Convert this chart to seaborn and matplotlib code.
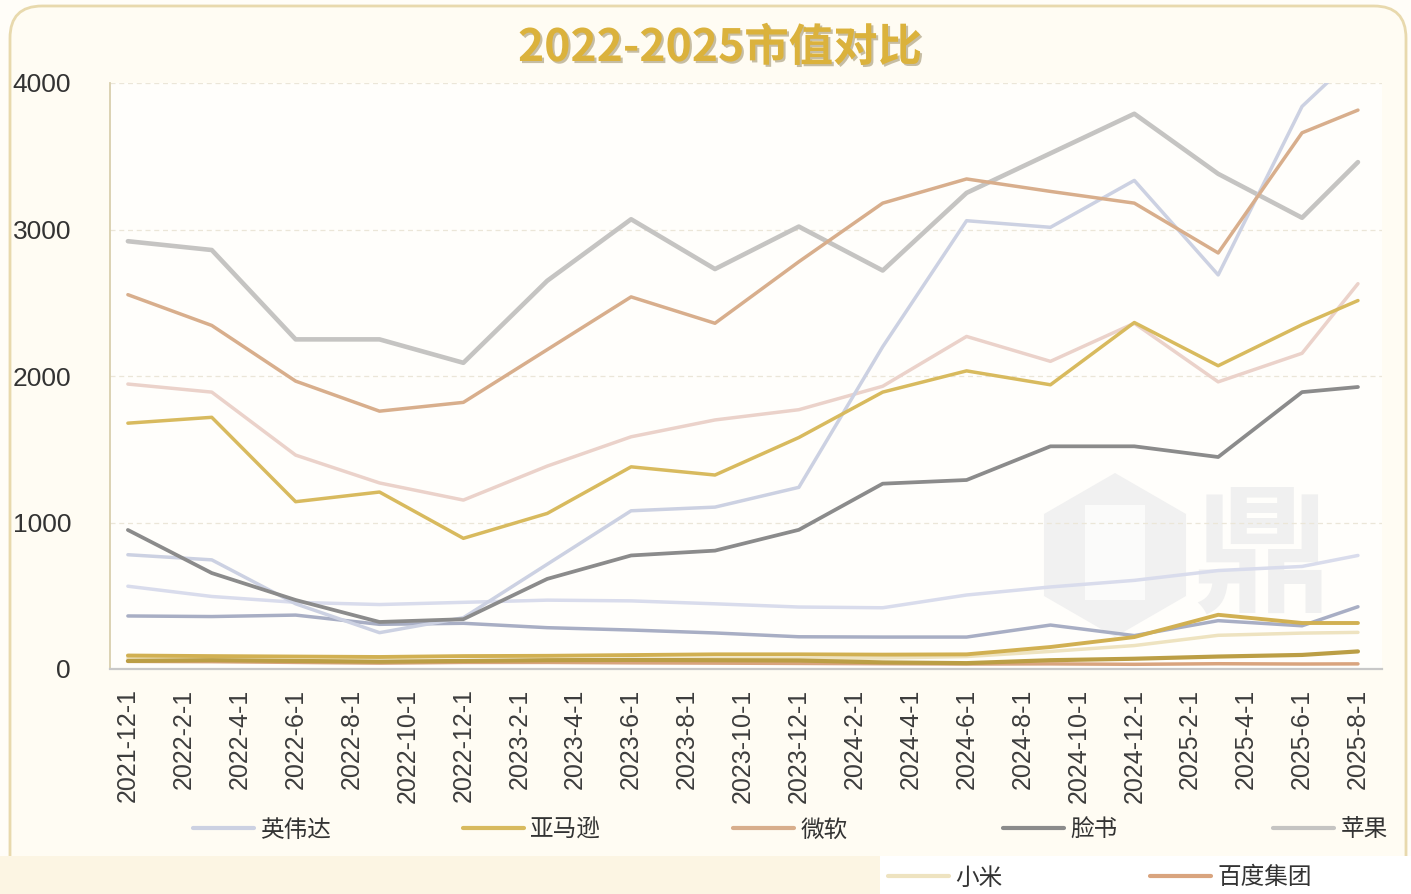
import numpy as np
import pandas as pd
import matplotlib
matplotlib.use("Agg")
import matplotlib.pyplot as plt
import matplotlib.patheffects as pe
from matplotlib.lines import Line2D
from matplotlib.patches import FancyBboxPatch, Rectangle, RegularPolygon
import seaborn as sns

# ---------------- data ----------------
dates = ["2021-12-1", "2022-3-1", "2022-6-1", "2022-9-1", "2022-12-1",
         "2023-3-1", "2023-6-1", "2023-9-1", "2023-12-1",
         "2024-3-1", "2024-6-1", "2024-9-1", "2024-12-1",
         "2025-3-1", "2025-6-1", "2025-8-1"]

tick_labels = ["2021-12-1", "2022-2-1", "2022-4-1", "2022-6-1", "2022-8-1", "2022-10-1",
               "2022-12-1", "2023-2-1", "2023-4-1", "2023-6-1", "2023-8-1", "2023-10-1",
               "2023-12-1", "2024-2-1", "2024-4-1", "2024-6-1", "2024-8-1", "2024-10-1",
               "2024-12-1", "2025-2-1", "2025-4-1", "2025-6-1", "2025-8-1"]

y_ticks = [0, 1000, 2000, 3000, 4000]

apple     = [2920, 2860, 2250, 2250, 2090, 2650, 3070, 2730, 3020, 2720, 3250, 3520, 3790, 3380, 3080, 3460]
microsoft = [2555, 2345, 1965, 1760, 1820, 2180, 2540, 2360, 2780, 3180, 3345, 3260, 3180, 2840, 3660, 3815]
nvidia    = [780, 745, 445, 248, 350, 715, 1080, 1105, 1240, 2200, 3060, 3015, 3335, 2690, 3840, 4200]
google    = [1945, 1890, 1460, 1270, 1153, 1385, 1585, 1700, 1770, 1930, 2270, 2100, 2360, 1960, 2155, 2630]
amazon    = [1678, 1718, 1142, 1208, 892, 1062, 1380, 1324, 1580, 1890, 2035, 1940, 2365, 2070, 2350, 2515]
meta      = [949, 655, 471, 321, 340, 615, 775, 808, 950, 1265, 1290, 1520, 1520, 1447, 1890, 1925]
tencent   = [565, 495, 455, 440, 455, 470, 465, 445, 423, 418, 505, 560, 605, 672, 700, 775]
alibaba   = [362, 358, 368, 305, 312, 282, 266, 246, 220, 218, 218, 300, 228, 330, 295, 425]
pdd       = [92, 88, 85, 82, 88, 90, 95, 100, 100, 98, 100, 150, 218, 370, 314, 314]
jd        = [55, 60, 55, 50, 55, 60, 62, 60, 58, 45, 40, 60, 70, 85, 96, 120]
xiaomi    = [75, 65, 55, 50, 50, 60, 65, 70, 70, 75, 85, 120, 160, 230, 245, 250]
baidu     = [52, 50, 45, 40, 45, 45, 42, 40, 38, 36, 34, 35, 32, 36, 34, 35]

series = {
    "腾讯": tencent, "小米": xiaomi, "谷歌": google, "阿里巴巴": alibaba,
    "百度集团": baidu, "京东": jd, "拼多多": pdd, "苹果": apple,
    "英伟达": nvidia, "微软": microsoft, "亚马逊": amazon, "脸书": meta,
}
palette = {
    "腾讯": "#d9dcec", "小米": "#eee3c0", "谷歌": "#ebd2ca", "阿里巴巴": "#a8aec4",
    "百度集团": "#d9a47e", "京东": "#bb9e45", "拼多多": "#d1b052", "苹果": "#c5c4c2",
    "英伟达": "#ccd1e2", "微软": "#d8ae8c", "亚马逊": "#d8ba5e", "脸书": "#8b8b8b",
}
widths = {"苹果": 3.3, "脸书": 2.7, "京东": 3.0, "拼多多": 2.8}
legend_row1 = ["英伟达", "亚马逊", "微软", "脸书", "苹果"]
legend_row2 = ["小米", "百度集团"]

# ---------------- frame ----------------
def month_index(s):
    d = pd.to_datetime(s)
    return (d.year - 2021) * 12 + d.month - 12

rows = []
for name, vals in series.items():
    for d, v in zip(dates, vals):
        rows.append({"m": month_index(d), "company": name, "value": v})
df = pd.DataFrame(rows)

sns.set_style("white")
plt.rcParams["font.family"] = ["Liberation Sans", "Noto Sans CJK SC", "DejaVu Sans"]

W, H = 1411, 894
fig = plt.figure(figsize=(W / 100, H / 100), dpi=100, facecolor="#fffdf8")

# background layer in pixel coordinates
bg = fig.add_axes([0, 0, 1, 1], zorder=0)
bg.set_xlim(0, W)
bg.set_ylim(H, 0)
bg.axis("off")
bg.add_patch(FancyBboxPatch((10, 6), 1396, 1000, boxstyle="round,pad=0,rounding_size=32",
                            facecolor="#fffcf3", edgecolor="#e8d9ad", lw=2))
bg.add_patch(Rectangle((110, 83), 1272, 586, facecolor="#fffefb", edgecolor="none"))
bg.add_patch(Rectangle((0, 856), 880, 40, facecolor="#fcf5e3", edgecolor="none"))
bg.add_patch(Rectangle((880, 856), 531, 40, facecolor="#ffffff", edgecolor="none"))
# faint watermark
bg.add_patch(RegularPolygon((1115, 555), numVertices=6, radius=82, orientation=0,
                            facecolor="#f1f1f1", edgecolor="none"))
bg.add_patch(Rectangle((1085, 505), 60, 95, facecolor="#fbfbfa", edgecolor="none"))
bg.text(1262, 560, "鼎", fontsize=100, family=["Noto Sans CJK SC"], fontweight="bold",
        color="#f0f0f0", ha="center", va="center")

ax = fig.add_axes([110 / W, 1 - 669 / H, 1272 / W, 586 / H], zorder=1)
ax.set_facecolor("none")

sns.lineplot(data=df, x="m", y="value", hue="company", hue_order=list(series.keys()),
             palette=palette, linewidth=2.5, legend=False, errorbar=None, sort=False, ax=ax)
for line, name in zip(ax.get_lines(), series.keys()):
    line.set_linewidth(widths.get(name, 2.5))
    line.set_solid_joinstyle("round")
    line.set_solid_capstyle("round")

ax.set_xlim(-0.64, 44.86)
ax.set_ylim(0, 4000)
ax.set_xlabel("")
ax.set_ylabel("")

ax.set_xticks([month_index(t) for t in tick_labels])
ax.set_xticklabels(tick_labels, rotation=90, fontsize=18, color="#3c3c3c")
ax.set_yticks(y_ticks)
ax.set_yticklabels([str(v) for v in y_ticks], fontsize=19, color="#333333")
ax.tick_params(axis="x", length=0, pad=14)
ax.tick_params(axis="y", length=0, pad=28)

for v in y_ticks[1:]:
    ax.axhline(v, color="#ebe6d8", lw=0.9, ls=(0, (4, 3)), zorder=0)

for s in ["top", "right"]:
    ax.spines[s].set_visible(False)
ax.spines["left"].set_color("#d9cfae")
ax.spines["left"].set_linewidth(1.3)
ax.spines["bottom"].set_color("#c8c8c8")
ax.spines["bottom"].set_linewidth(1.6)

# title
fig.text(720 / W, 1 - 48 / H, "2022-2025市值对比", fontsize=32, fontweight="bold",
         family=["Noto Sans CJK SC"], color="#dbb23c", ha="center", va="center",
         path_effects=[pe.SimplePatchShadow(offset=(1.5, -1.5), shadow_rgbFace="#8f7f55", alpha=0.5),
                       pe.Normal()])

# legend entries placed individually
def add_entry(name, xpix, ypix):
    h = Line2D([0], [0], color=palette[name], lw=3)
    leg = fig.legend([h], [name], loc="center left", bbox_to_anchor=(xpix / W, 1 - ypix / H),
                     frameon=False, handlelength=2.6, handletextpad=0.25,
                     borderpad=0, borderaxespad=0, prop={"family": ["Noto Sans CJK SC"], "size": 17})
    for t in leg.get_texts():
        t.set_color("#333333")

for i, name in enumerate(legend_row1):
    add_entry(name, 193 + 270 * i, 830)
for i, name in enumerate(legend_row2):
    add_entry(name, 888 + 262 * i, 878)

fig.savefig("out.png", dpi=100, facecolor=fig.get_facecolor())
